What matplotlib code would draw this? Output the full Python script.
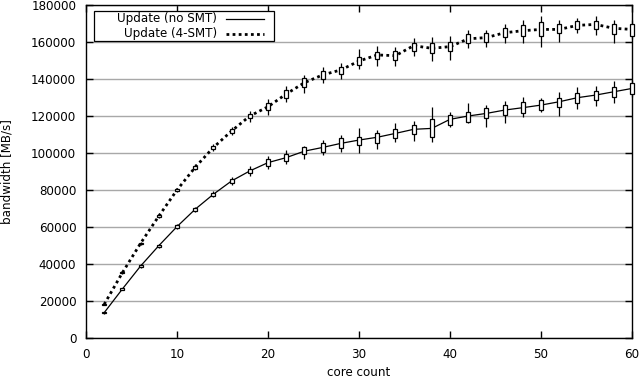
import matplotlib
matplotlib.use("Agg")
import matplotlib.pyplot as plt
from matplotlib.patches import Rectangle
from matplotlib.lines import Line2D
import numpy as np

cores = [2, 4, 6, 8, 10, 12, 14, 16, 18, 20, 22, 24, 26, 28, 30,
         32, 34, 36, 38, 40, 42, 44, 46, 48, 50, 52, 54, 56, 58, 60]

# Update (no SMT)
nosmt_med = [13700, 26500, 38900, 49900, 60200, 69600, 77700, 84900, 90300, 94800,
             97500, 101000, 103000, 105200, 107000, 108500, 110600, 112800, 113300, 118200,
             120000, 121400, 123200, 124500, 125900, 127700, 129900, 131300, 133100, 134900]
nosmt_box_lo = [13400, 26100, 38400, 49300, 59400, 68800, 76800, 83900, 89000, 93200,
                95800, 99500, 100700, 102500, 104300, 105600, 107900, 110300, 108800, 115100,
                116900, 118700, 120500, 121800, 123200, 125000, 127200, 128600, 130100, 131900]
nosmt_box_hi = [14000, 26900, 39400, 50500, 61000, 70400, 78600, 85900, 91500, 96500,
                99300, 103000, 105200, 107900, 108800, 110600, 113000, 115100, 118200, 120500,
                122300, 124100, 125900, 127700, 128600, 129900, 132600, 133700, 135800, 138000]
nosmt_wh_lo = [13200, 25800, 38000, 48900, 59000, 68300, 76000, 82800, 87500, 91500,
               94000, 96600, 98900, 100700, 100200, 102000, 106100, 106500, 106100, 114200,
               116000, 114200, 116400, 119300, 122300, 120000, 123600, 125400, 127200, 130400]
nosmt_wh_hi = [14200, 27200, 39800, 50900, 61500, 71000, 79500, 87000, 93000, 98500,
               101500, 103800, 107000, 109700, 113300, 112400, 116000, 117300, 124700, 122300,
               127200, 125900, 128300, 130400, 129500, 133100, 135800, 136200, 139100, 139400]

# Update (4-SMT)
smt_med = [18200, 35300, 51200, 65900, 80000, 92300, 103000, 111900, 120000, 125000,
           131900, 138000, 142200, 144900, 149700, 153000, 152600, 158000, 156600, 157500,
           161700, 162400, 165000, 166100, 166800, 166800, 169000, 169500, 167400, 166800]
smt_box_lo = [17900, 35000, 50800, 65400, 79400, 91600, 102100, 110900, 118800, 123000,
              129800, 135500, 139800, 142700, 147600, 150600, 150300, 155300, 153900, 155300,
              159500, 160200, 162500, 163200, 163200, 164700, 166800, 166800, 164300, 163200]
smt_box_hi = [18500, 35600, 51600, 66400, 80600, 93000, 103900, 112900, 121200, 127000,
              134000, 140300, 144500, 146700, 151700, 154800, 155300, 159600, 159300, 160200,
              164500, 164700, 167400, 169200, 171000, 169700, 171500, 171500, 169700, 169700]
smt_wh_lo = [17600, 34600, 50300, 64800, 78800, 90800, 101000, 109500, 116800, 120500,
             127500, 132600, 137600, 139800, 145200, 147000, 147000, 152400, 149900, 150300,
             156600, 157500, 159600, 159300, 157500, 160200, 164700, 163800, 159300, 161400]
smt_wh_hi = [18800, 36000, 52100, 67000, 81200, 93800, 105000, 114300, 122800, 129000,
             136000, 142200, 146300, 148500, 156000, 157800, 157100, 162000, 162500, 163200,
             166500, 166500, 169700, 171900, 174000, 171900, 172800, 174000, 171900, 171900]

x_ticks = [0, 10, 20, 30, 40, 50, 60]
y_ticks = [0, 20000, 40000, 60000, 80000, 100000, 120000, 140000, 160000, 180000]

plt.rcParams['font.family'] = ['DejaVu Sans']
fs = 8.6

fig = plt.figure(figsize=(6.4, 3.79), dpi=100)
ax = fig.add_axes([86/640, 1-338/379, (632-86)/640, (338-5)/379])

ax.set_xlim(0, 60)
ax.set_ylim(0, 180000)
ax.set_xticks(x_ticks)
ax.set_yticks(y_ticks)
ax.set_yticklabels([str(v) for v in y_ticks])
ax.tick_params(direction='in', length=5, width=1, top=True, right=True,
               labelsize=fs, pad=7)
ax.tick_params(axis='x', pad=7)
for s in ax.spines.values():
    s.set_linewidth(1.0)
ax.yaxis.grid(True, color='#a8a8a8', linewidth=1.0)
ax.set_axisbelow(True)

# lines
ax.plot(cores, nosmt_med, color='black', linewidth=0.9, zorder=3)
ax.plot(cores, smt_med, color='black', linewidth=2.0, linestyle=(0, (1, 1.2)), zorder=3)

w = 0.45
for med, blo, bhi, wlo, whi in [(nosmt_med, nosmt_box_lo, nosmt_box_hi, nosmt_wh_lo, nosmt_wh_hi),
                                (smt_med, smt_box_lo, smt_box_hi, smt_wh_lo, smt_wh_hi)]:
    ax.vlines(cores, wlo, whi, color='black', linewidth=0.9, zorder=4, clip_on=False)
    ax.bar(cores, np.array(bhi) - np.array(blo), bottom=blo, width=w,
           facecolor='white', edgecolor='black', linewidth=0.9, zorder=5, clip_on=False)

ax.set_xlabel('core count', fontsize=fs)
ax.set_ylabel('bandwidth [MB/s]', fontsize=fs)
ax.xaxis.set_label_coords(0.5, (338 - 366) / 333)
ax.yaxis.set_label_coords((1 - 86) / 546, 0.5)
ax.yaxis.label.set_va('top')

# legend (gnuplot style, right-justified text then sample)
def axc(px, py):
    return ((px - 86) / 546, (338 - py) / 333)

x0, y0 = axc(94, 41)
x1, y1 = axc(274, 11)
ax.add_patch(Rectangle((x0, y0), x1 - x0, y1 - y0, transform=ax.transAxes,
                       facecolor='white', edgecolor='black', linewidth=0.9, zorder=6))
tx, ty1 = axc(217, 18.5)
_, ty2 = axc(217, 33.5)
ax.text(tx, ty1, 'Update (no SMT)', transform=ax.transAxes, ha='right', va='center',
        fontsize=fs, zorder=7)
ax.text(tx, ty2, 'Update (4-SMT)', transform=ax.transAxes, ha='right', va='center',
        fontsize=fs, zorder=7)
lx0, _ = axc(226, 0)
lx1, _ = axc(264, 0)
ax.add_line(Line2D([lx0, lx1], [ty1, ty1], transform=ax.transAxes, color='black',
                   linewidth=0.9, zorder=7))
ax.add_line(Line2D([lx0, lx1], [ty2, ty2], transform=ax.transAxes, color='black',
                   linewidth=2.0, linestyle=(0, (1, 1.2)), zorder=7))

fig.savefig('out.png', dpi=100)
